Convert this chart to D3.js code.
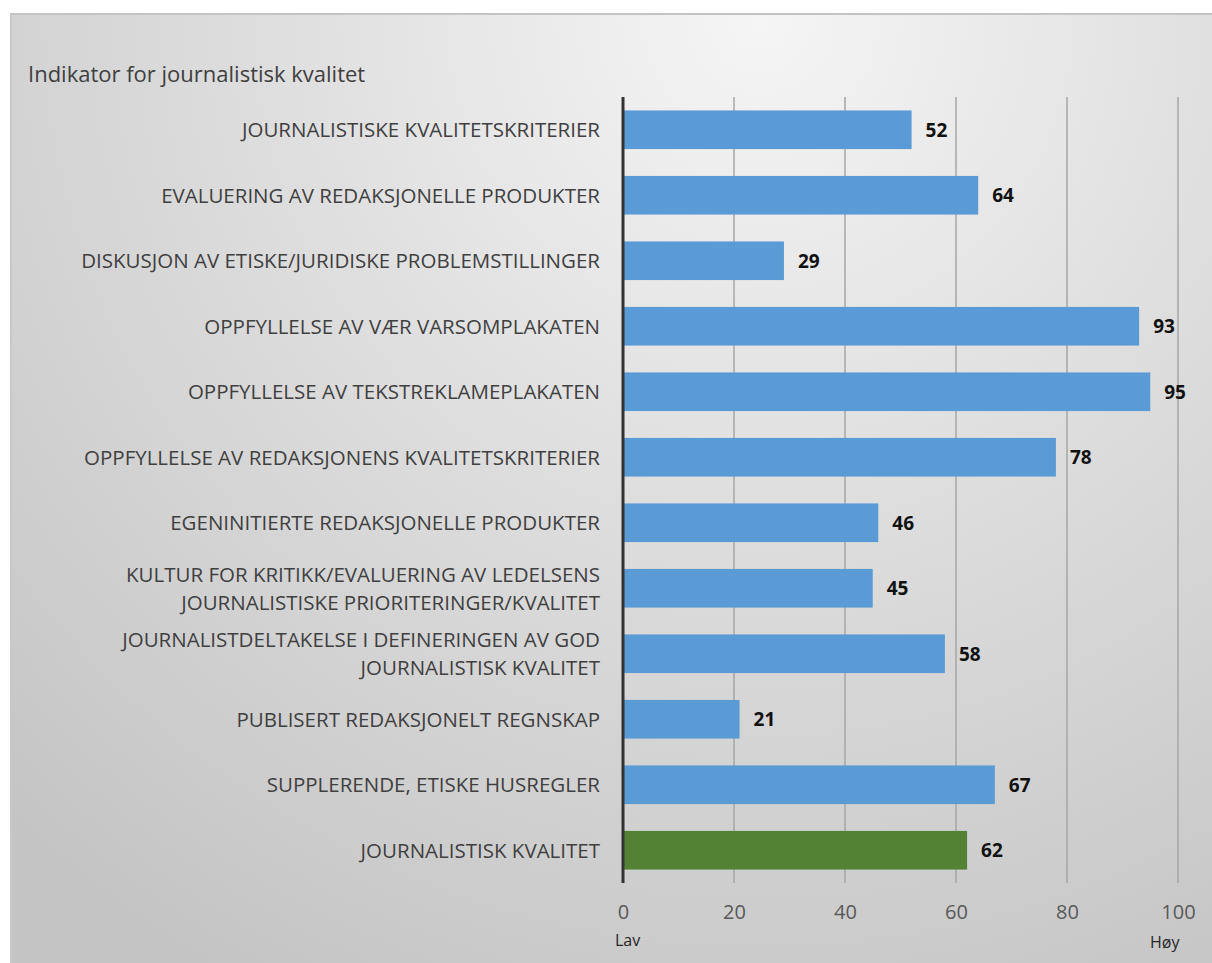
<!DOCTYPE html>
<html>
<head>
<meta charset="utf-8">
<script src="https://cdn.jsdelivr.net/npm/d3@7"></script>
<style>
    html, body { margin: 0; padding: 0; background: #fff; }
    #chart { width: 1212px; height: 963px; }
    text { font-family: "Open Sans", sans-serif; }
</style>
</head>
<body>
<div id="chart"></div>
<script>
const categories = [
    ['JOURNALISTISKE KVALITETSKRITERIER'],
    ['EVALUERING AV REDAKSJONELLE PRODUKTER'],
    ['DISKUSJON AV ETISKE/JURIDISKE PROBLEMSTILLINGER'],
    ['OPPFYLLELSE AV VÆR VARSOMPLAKATEN'],
    ['OPPFYLLELSE AV TEKSTREKLAMEPLAKATEN'],
    ['OPPFYLLELSE AV REDAKSJONENS KVALITETSKRITERIER'],
    ['EGENINITIERTE REDAKSJONELLE PRODUKTER'],
    ['KULTUR FOR KRITIKK/EVALUERING AV LEDELSENS', 'JOURNALISTISKE PRIORITERINGER/KVALITET'],
    ['JOURNALISTDELTAKELSE I DEFINERINGEN AV GOD', 'JOURNALISTISK KVALITET'],
    ['PUBLISERT REDAKSJONELT REGNSKAP'],
    ['SUPPLERENDE, ETISKE HUSREGLER'],
    ['JOURNALISTISK KVALITET']
];
const values = [52, 64, 29, 93, 95, 78, 46, 45, 58, 21, 67, 62];
const highlight = [false, false, false, false, false, false, false, false, false, false, false, true];
const xTicks = [0, 20, 40, 60, 80, 100];
const title = 'Indikator for journalistisk kvalitet';
const lowLabel = 'Lav';
const highLabel = 'Høy';

const COLORS = {
    bar: '#5b9bd5',
    total: '#548235',
    grid: '#a6a6a6',
    axis: '#333333',
    label: '#404040',
    tick: '#595959'
};

const W = 1212, H = 963;
const panel = { x: 10, y: 13 };
const plot = { left: 623, right: 1178, top: 97, bottom: 883 };

const svg = d3.select('#chart').append('svg')
    .attr('width', W)
    .attr('height', H);

const defs = svg.append('defs');
const grad = defs.append('radialGradient')
    .attr('id', 'bg')
    .attr('gradientUnits', 'userSpaceOnUse')
    .attr('cx', 760).attr('cy', 20).attr('r', 1100);
grad.append('stop').attr('offset', '0%').attr('stop-color', '#f5f5f5');
grad.append('stop').attr('offset', '45%').attr('stop-color', '#dedede');
grad.append('stop').attr('offset', '100%').attr('stop-color', '#c4c4c4');

svg.append('rect')
    .attr('x', panel.x).attr('y', panel.y)
    .attr('width', W - panel.x).attr('height', H - panel.y)
    .attr('fill', 'url(#bg)');
svg.append('line')
    .attr('x1', panel.x).attr('x2', W)
    .attr('y1', panel.y + 1).attr('y2', panel.y + 1)
    .attr('stroke', '#c4c4c4').attr('stroke-width', 2);
svg.append('line')
    .attr('x1', panel.x + 1).attr('x2', panel.x + 1)
    .attr('y1', panel.y).attr('y2', H)
    .attr('stroke', '#c8c8c8').attr('stroke-width', 2);

svg.append('text')
    .attr('x', 28).attr('y', 82)
    .attr('font-size', 22)
    .attr('fill', COLORS.label)
    .text(title);

const x = d3.scaleLinear()
    .domain([0, 100])
    .range([plot.left, plot.right]);

const y = d3.scaleBand()
    .domain(d3.range(values.length))
    .range([plot.top, plot.bottom])
    .paddingInner(0.41)
    .paddingOuter(0.205);

// gridlines
svg.append('g')
    .selectAll('line')
    .data(xTicks.slice(1))
    .enter()
    .append('line')
    .attr('x1', d => x(d)).attr('x2', d => x(d))
    .attr('y1', plot.top).attr('y2', plot.bottom)
    .attr('stroke', COLORS.grid)
    .attr('stroke-width', 1.5);

// bars
svg.append('g')
    .selectAll('rect')
    .data(values)
    .enter()
    .append('rect')
    .attr('x', x(0))
    .attr('y', (d, i) => y(i))
    .attr('width', d => x(d) - x(0))
    .attr('height', y.bandwidth())
    .attr('fill', (d, i) => highlight[i] ? COLORS.total : COLORS.bar);

// value labels
svg.append('g')
    .selectAll('text')
    .data(values)
    .enter()
    .append('text')
    .attr('x', d => x(d) + 14)
    .attr('y', (d, i) => y(i) + y.bandwidth() / 2)
    .attr('dy', '0.36em')
    .attr('font-weight', 'bold')
    .attr('font-size', 19)
    .attr('fill', '#111')
    .text(d => d);

// category labels
const catG = svg.append('g');
categories.forEach((lines, i) => {
    const cy = y(i) + y.bandwidth() / 2;
    const lh = 28;
    const t = catG.append('text')
        .attr('text-anchor', 'end')
        .attr('font-size', 20.5)
        .attr('fill', COLORS.label);
    lines.forEach((line, j) => {
        t.append('tspan')
            .attr('x', 600)
            .attr('y', cy + (j - (lines.length - 1) / 2) * lh)
            .attr('dy', '0.36em')
            .attr('textLength', null)
            .text(line);
    });
});

// axis line
svg.append('line')
    .attr('x1', x(0)).attr('x2', x(0))
    .attr('y1', plot.top).attr('y2', plot.bottom)
    .attr('stroke', COLORS.axis)
    .attr('stroke-width', 3);

// x tick labels
const xAxis = d3.axisBottom(x)
    .tickValues(xTicks)
    .tickSize(0)
    .tickPadding(22);
const ax = svg.append('g')
    .attr('transform', `translate(0,${plot.bottom})`)
    .call(xAxis);
ax.select('.domain').remove();
ax.selectAll('text')
    .attr('font-family', '"Open Sans", sans-serif')
    .attr('font-size', 20)
    .attr('fill', COLORS.tick);

svg.append('text')
    .attr('x', x(0) - 8).attr('y', 946)
    .attr('font-size', 16)
    .attr('fill', '#262626')
    .text(lowLabel);
svg.append('text')
    .attr('x', x(100) - 28).attr('y', 948)
    .attr('font-size', 16)
    .attr('fill', '#262626')
    .text(highLabel);
</script>
</body>
</html>
